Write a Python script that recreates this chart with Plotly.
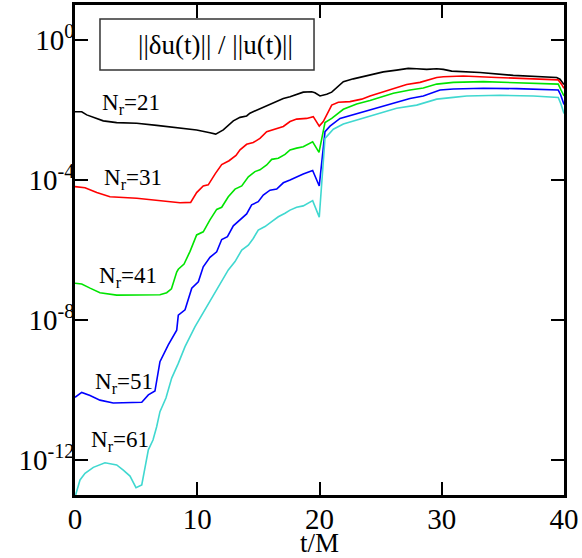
import numpy as np
import plotly.graph_objects as go

# ---- data: t/M and log10(||du||/||u||) ----
t_21 = [0, 0.55, 0.96, 1.5, 2.31, 3.41, 5.05, 6.68, 8.59, 9.95, 11.04, 11.51, 12.13, 12.95,
        13.5, 14.04, 14.31, 15.68, 17.04, 17.59, 18.67, 19.36, 19.63, 20.04, 20.59, 21.0,
        21.95, 22.77, 23.86, 24.4, 25.22, 26.31, 27.26, 27.95, 28.77, 29.59, 30.13, 30.81,
        33.13, 35.85, 39.4, 39.67, 39.94, 40]
lg_21 = [-2.05, -2.05, -2.14, -2.21, -2.31, -2.36, -2.38, -2.44, -2.51, -2.57, -2.65, -2.69,
         -2.57, -2.31, -2.21, -2.17, -2.09, -1.89, -1.67, -1.62, -1.49, -1.48, -1.51, -1.6,
         -1.55, -1.49, -1.19, -1.11, -1.03, -0.99, -0.91, -0.86, -0.81, -0.82, -0.84, -0.82,
         -0.84, -0.89, -0.93, -1.01, -1.07, -1.12, -1.24, -1.27]

t_31 = [0, 0.82, 1.78, 2.86, 5.05, 7.22, 8.59, 9.46, 9.95, 10.49, 10.9, 11.49, 12.0, 12.6,
        13.17, 13.5, 14.04, 14.58, 15.13, 15.68, 16.36, 17.04, 17.59, 18.13, 18.95, 19.49,
        19.98, 20.31, 21.0, 21.54, 22.49, 23.45, 24.13, 25.22, 26.04, 27.13, 28.22, 28.77,
        29.59, 30.13, 31.76, 34.49, 37.22, 39.53, 39.81, 40]
lg_31 = [-4.19, -4.22, -4.36, -4.48, -4.52, -4.59, -4.65, -4.64, -4.36, -4.17, -4.14, -3.81,
         -3.56, -3.45, -3.3, -3.14, -2.98, -2.93, -2.81, -2.62, -2.55, -2.47, -2.33, -2.26,
         -2.24, -2.19, -2.46, -2.33, -1.86, -1.78, -1.76, -1.69, -1.6, -1.48, -1.38, -1.27,
         -1.21, -1.16, -1.07, -1.05, -1.03, -1.07, -1.11, -1.14, -1.27, -1.38]

t_41 = [0, 0.55, 1.23, 2.04, 3.41, 5.05, 6.95, 7.5, 7.89, 8.32, 8.45, 8.92, 9.41, 9.95, 10.49,
        11.04, 11.59, 12.0, 12.54, 13.09, 13.64, 14.18, 14.72, 15.13, 15.68, 16.09, 16.63,
        17.18, 17.59, 18.13, 18.67, 19.44, 19.96, 20.45, 21.0, 21.95, 23.04, 24.13, 26.04,
        27.4, 28.49, 29.59, 30.95, 33.4, 36.13, 39.53, 39.73, 40]
lg_41 = [-6.95, -6.97, -7.09, -7.22, -7.29, -7.29, -7.28, -7.22, -7.11, -6.63, -6.55, -6.4,
         -6.04, -5.57, -5.48, -5.14, -4.84, -4.78, -4.48, -4.26, -4.17, -3.91, -3.76, -3.71,
         -3.57, -3.41, -3.38, -3.27, -3.14, -3.09, -3.05, -2.91, -3.21, -2.36, -2.24, -1.98,
         -1.83, -1.73, -1.52, -1.43, -1.37, -1.26, -1.21, -1.19, -1.22, -1.26, -1.41, -1.6]

t_51 = [0, 0.55, 1.23, 2.04, 3.13, 5.46, 6.0, 6.54, 6.95, 7.63, 8.32, 8.45, 9.0, 9.55, 10.09,
        10.49, 11.04, 11.59, 12.0, 12.47, 12.95, 13.5, 14.04, 14.45, 14.99, 15.4, 15.95, 16.5,
        17.04, 17.59, 18.13, 18.67, 19.44, 19.98, 20.45, 20.86, 21.68, 23.04, 24.4, 26.04,
        27.4, 28.49, 29.86, 30.95, 33.4, 36.13, 39.53, 39.73, 40]
lg_51 = [-10.21, -10.07, -10.16, -10.29, -10.37, -10.35, -10.14, -10.03, -9.19, -8.71, -8.29,
         -7.86, -7.71, -7.09, -6.91, -6.48, -6.21, -6.05, -5.7, -5.62, -5.31, -5.14, -4.97,
         -4.71, -4.62, -4.43, -4.29, -4.26, -4.08, -4.0, -3.91, -3.83, -3.73, -4.17, -2.62,
         -2.46, -2.24, -2.11, -1.98, -1.81, -1.67, -1.6, -1.43, -1.4, -1.38, -1.39, -1.43,
         -1.57, -1.84]

t_61 = [0.05, 0.41, 0.82, 1.5, 2.45, 3.41, 3.95, 4.5, 4.99, 5.46, 6.0, 6.38, 6.68, 6.95, 7.44,
        7.91, 8.45, 9.0, 9.82, 10.77, 11.59, 12.54, 13.09, 13.64, 14.18, 14.58, 14.99, 15.54,
        16.09, 16.63, 17.18, 17.59, 18.13, 18.67, 19.44, 19.98, 20.45, 21.13, 21.95, 23.31,
        24.68, 26.31, 27.95, 29.59, 30.95, 32.04, 34.76, 37.49, 39.53, 39.73, 40]
lg_61 = [-13.0, -12.57, -12.38, -12.21, -12.08, -12.14, -12.29, -12.46, -12.79, -12.71, -11.71,
         -11.43, -11.05, -10.62, -10.23, -9.66, -9.24, -8.76, -8.19, -7.62, -7.14, -6.57,
         -6.33, -6.0, -5.86, -5.67, -5.43, -5.33, -5.19, -5.05, -4.95, -4.86, -4.78, -4.74,
         -4.59, -5.06, -2.81, -2.55, -2.4, -2.26, -2.12, -1.95, -1.86, -1.69, -1.64, -1.6,
         -1.58, -1.6, -1.64, -1.81, -2.1]

series_names = ["21", "31", "41", "51", "61"]
series_t = [t_21, t_31, t_41, t_51, t_61]
series_lg = [lg_21, lg_31, lg_41, lg_51, lg_61]
colors = ["#000000", "#ff0000", "#00e400", "#0000ff", "#40d8d0"]

# label anchor (t, log10) for each N_r label
label_t = [2.04, 2.18, 1.78, 1.45, 1.17]
label_lg = [-1.83, -3.98, -6.76, -9.79, -11.45]

x_ticks = [0, 10, 20, 30, 40]
y_tick_vals = [1, 1e-4, 1e-8, 1e-12]
y_tick_text = ["10<sup>0</sup>", "10<sup>-4</sup>", "10<sup>-8</sup>", "10<sup>-12</sup>"]

FONT = "Liberation Serif"

fig = go.Figure()
for name, tt, lg, c in zip(series_names, series_t, series_lg, colors):
    fig.add_trace(go.Scatter(x=tt, y=10 ** np.array(lg), mode="lines",
                             line=dict(color=c, width=1.6), name="N_r=" + name,
                             showlegend=False))

for name, lt, ll in zip(series_names, label_t, label_lg):
    fig.add_annotation(x=lt, y=ll, xref="x", yref="y", text="N<sub>r</sub>=" + name,
                       showarrow=False, xanchor="left", yanchor="middle",
                       font=dict(family=FONT, size=23, color="black"))

# legend-like title box
fig.add_shape(type="rect", xref="paper", yref="paper", x0=0.0511, x1=0.4888,
              y0=0.8673, y1=0.9714, line=dict(color="#333333", width=1.5),
              fillcolor="white", layer="above")
fig.add_annotation(x=0.288, y=(0.8673 + 0.9714) / 2, xref="paper",
                   yref="paper", text="||δu(t)|| / ||u(t)||", showarrow=False,
                   xanchor="center", yanchor="middle",
                   font=dict(family=FONT, size=27, color="black"))

# x-axis title
fig.add_annotation(x=0.501, y=-0.1306, xref="paper", yref="paper", text="t/M",
                   showarrow=False, xanchor="center", yanchor="bottom", borderpad=0,
                   font=dict(family=FONT, size=27, color="black"))

axis_common = dict(showline=True, linecolor="black", linewidth=2.5, mirror="allticks",
                   ticks="inside", ticklen=13, tickwidth=2, tickcolor="black",
                   showgrid=False, zeroline=False, automargin=False,
                   tickfont=dict(family=FONT, size=29, color="black"))

fig.update_xaxes(range=[0, 40], tickvals=x_ticks, ticklabelstandoff=-4, **axis_common)
fig.update_yaxes(type="log", range=[-13, 1], tickvals=y_tick_vals, ticktext=y_tick_text,
                 ticklabelstandoff=-8, **axis_common)

fig.update_layout(width=582, height=558, margin=dict(l=75, r=18, t=5, b=63),
                  plot_bgcolor="white", paper_bgcolor="white")

fig.write_html("out.html")
